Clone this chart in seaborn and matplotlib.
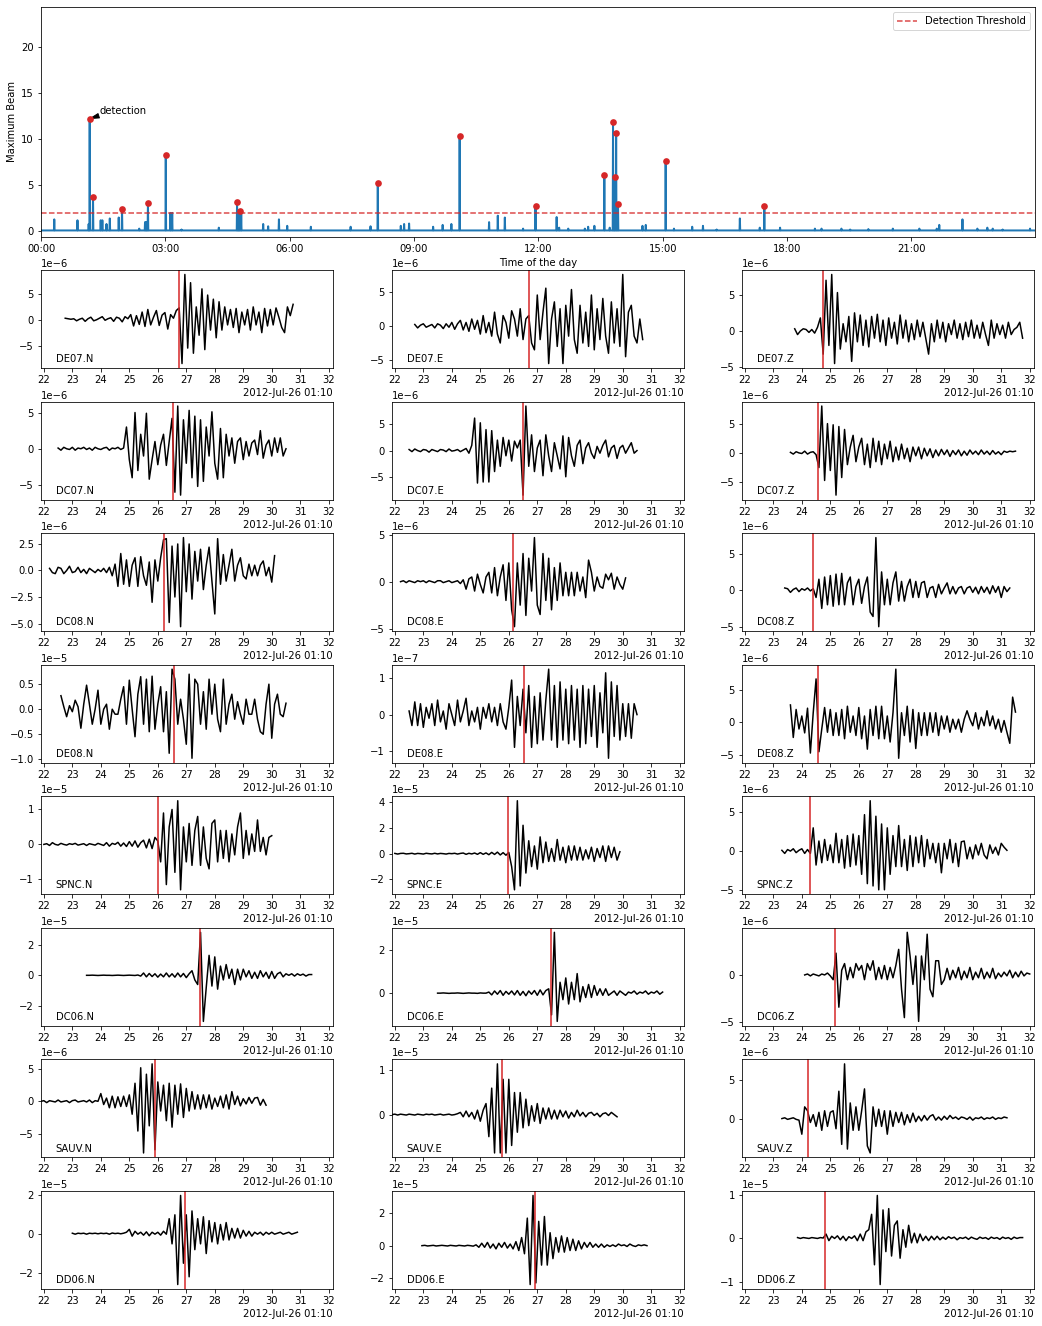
import numpy as np
import pandas as pd
import matplotlib
matplotlib.use("Agg")
import matplotlib.pyplot as plt
import matplotlib.dates as mdates
import seaborn as sns

# ------------------------------------------------------------------ top panel data
day = pd.Timestamp("2012-07-26")
det_hours = [1.175, 1.255, 1.955, 2.58, 3.01, 4.73, 4.795, 8.125, 10.10, 11.93,
             13.59, 13.80, 13.875, 13.84, 13.92, 15.07, 17.45]
det_values = [12.2, 3.72, 2.42, 3.1, 8.27, 3.18, 2.2, 5.24, 10.33, 2.75,
              6.1, 11.85, 10.65, 5.9, 2.97, 7.62, 2.75]
minor_hours = [0.32, 0.88, 1.15, 1.44, 1.48, 1.58, 1.66, 1.875, 2.37, 2.51, 2.54,
               3.12, 3.165, 3.39, 4.29, 4.76, 4.83, 5.36, 5.48, 5.74, 5.94, 6.51,
               7.47, 7.95, 8.68, 8.76, 8.88, 9.46, 9.69, 9.90, 10.81, 11.02, 11.19,
               11.63, 12.44, 12.50, 12.72, 13.12, 13.20, 13.35, 13.72, 14.51, 14.59,
               15.27, 15.71, 15.97, 16.30, 16.86, 17.34, 17.83, 18.67, 18.83, 19.31,
               19.52, 19.96, 20.55, 21.19, 21.61, 21.67, 22.23, 22.59, 22.83, 22.96,
               23.20, 23.86]
minor_values = [1.3, 1.2, 0.8, 1.2, 1.2, 0.8, 1.4, 1.5, 0.3, 1.0, 1.0,
                2.0, 2.0, 0.2, 0.4, 1.9, 1.85, 0.8, 0.55, 1.3, 0.6, 0.5,
                0.5, 0.55, 0.6, 0.8, 0.85, 0.5, 0.7, 0.8, 1.0, 1.7, 1.5,
                0.3, 1.55, 0.4, 0.3, 0.3, 0.5, 0.6, 0.4, 0.6, 0.7,
                0.3, 0.5, 0.6, 0.2, 1.4, 0.4, 0.4, 0.3, 0.3, 0.3,
                0.2, 0.25, 0.3, 0.3, 0.3, 0.7, 1.3, 0.3, 0.4, 0.3,
                0.2, 0.3]
beam_floor = 0.1
day_end_hours = 23.98
threshold = 2.0

# ------------------------------------------------------------------ waveform data
origin = pd.Timestamp("2012-07-26 01:10:00")
sample_dt = 0.1
panel_names = ["DE07.N", "DE07.E", "DE07.Z", "DC07.N", "DC07.E", "DC07.Z",
               "DC08.N", "DC08.E", "DC08.Z", "DE08.N", "DE08.E", "DE08.Z",
               "SPNC.N", "SPNC.E", "SPNC.Z", "DC06.N", "DC06.E", "DC06.Z",
               "SAUV.N", "SAUV.E", "SAUV.Z", "DD06.N", "DD06.E", "DD06.Z"]
trace_start = [22.75, 22.7, 23.75, 22.5, 22.5, 23.6, 22.2, 22.2, 23.4, 22.6, 22.5, 23.6,
               22.0, 22.0, 23.3, 23.5, 23.5, 24.1, 21.9, 21.9, 23.3, 23.0, 22.95, 23.85]
pick_time = [26.76, 26.72, 24.75, 26.53, 26.51, 24.58, 26.21, 26.16, 24.40, 26.56, 26.53, 24.58,
             26.00, 25.98, 24.28, 27.47, 27.47, 25.16, 25.90, 25.77, 24.21, 26.97, 26.93, 24.81]
exponent = [-6, -6, -6, -6, -6, -6, -6, -6, -6, -5, -7, -6,
            -5, -5, -6, -5, -5, -6, -6, -5, -6, -5, -5, -5]

DE07_N = [0.3, 0.2, 0.1, 0.2, -0.2, 0.1, 0.3, -0.3, 0.2, 0.5,
          -0.2, 0.0, 0.3, 0.6, -0.1, 0.2, 0.4, -0.3, 0.5, 0.3,
          -0.4, 0.6, 0.2, 1.0, -1.2, 0.8, -0.9, 1.5, -1.3, 2.0,
          -1.0, 0.5, 1.8, -1.1, 0.9, 1.4, -1.8, 1.0, 0.3, 1.8,
          2.3, -8.5, 8.8, -5.5, 7.2, -6.5, 2.5, -3.0, 6.0, -5.8,
          4.8, -2.0, 4.0, -3.5, 3.5, -2.0, 2.5, -1.0, 2.0, -1.5,
          2.2, -2.5, 1.5, -1.0, 2.0, -2.0, 2.5, -1.0, 1.5, -2.5,
          2.2, -1.2, 2.0, -1.0, 2.3, 0.5, -1.5, -2.5, 2.5, 0.8, 3.0]
DE07_E = [0.2, -0.3, 0.1, 0.3, -0.2, 0.0, 0.2, -0.3, 0.3, 0.1,
          -0.4, 0.3, -0.2, 0.5, -0.5, 0.3, 0.8, -0.6, 0.5, -0.8,
          1.0, -0.5, 0.8, -1.2, 1.5, -1.0, 0.5, -1.5, 2.0, -1.2,
          -2.5, 1.5, 0.5, -1.8, 2.2, 1.0, -1.5, 2.5, -2.0, 1.0,
          1.5, -2.5, -3.5, 4.5, -2.0, 2.0, 5.5, -5.5, 1.0, 3.5,
          -3.0, 2.5, -5.5, 3.0, -1.5, 5.3, -2.0, -4.0, 3.0, -2.5,
          2.0, -3.0, 4.5, -3.5, 2.5, -2.0, 4.0, -1.5, -4.0, 3.5,
          -2.5, 2.5, -3.0, 7.5, -4.5, 2.0, 3.0, -1.5, -2.5, 1.0, -2.0]
DE07_Z = [0.3, -0.5, 0.0, 0.3, 0.2, -0.2, 0.2, -0.3, 0.5, 1.8,
          -3.2, 7.0, -2.0, 7.8, -4.5, 5.3, -2.5, 1.0, -1.5, 2.0,
          -4.2, 2.5, -1.5, 2.2, -2.0, 1.5, -2.2, 2.0, -1.0, 2.3,
          -1.5, 1.5, -2.0, 1.8, -1.0, 1.2, -1.8, 2.2, -1.0, 1.5,
          -1.5, 1.0, -1.2, 1.5, -0.8, 1.2, -1.0, -3.2, 1.0, -1.5,
          1.5, -1.0, 1.2, -1.5, 1.0, -0.5, 1.5, -1.0, 1.0, -1.2,
          1.2, -0.8, 1.5, -1.0, 0.8, -1.0, 1.2, -0.5, -2.0, 1.5,
          -1.0, 1.0, -0.5, 0.8, -1.0, 1.2, -0.5, 0.2, 0.5, 1.2, -1.0]
DC07_N = [0.1, -0.2, 0.2, 0.0, -0.1, 0.2, -0.2, 0.1, 0.0, 0.2,
          -0.1, 0.1, -0.2, 0.2, 0.0, -0.1, 0.1, 0.2, -0.2, 0.1,
          0.0, 0.2, -0.1, 0.1, 3.0, -1.5, -4.0, 5.0, -3.0, 2.0,
          -1.0, 4.9, -4.2, -1.5, 1.0, -2.2, 0.5, 2.0, -2.3, 1.0,
          4.2, -6.0, 5.9, -6.4, 4.0, -2.0, 5.3, -4.0, 4.5, -5.2,
          4.0, -4.5, 3.0, -1.0, 5.1, -2.0, -4.2, 2.8, -4.0, 2.0,
          -1.0, 1.5, -2.0, 1.0, 1.5, -1.5, 1.0, -1.0, 0.8, 1.2,
          -0.8, 2.5, -1.3, 0.5, 1.2, -1.0, 1.5, -0.5, 1.5, -1.0, 0.0]
DC07_E = [0.2, -0.2, 0.3, 0.0, -0.2, 0.2, 0.1, -0.3, 0.2, 0.0,
          -0.2, 0.2, 0.1, -0.2, 0.3, -0.1, 0.0, 0.2, -0.2, 0.1,
          0.4, -0.5, 1.0, 6.2, -6.2, 5.3, -6.0, 4.0, -6.0, 3.8,
          -4.0, 2.0, -3.0, 2.5, -1.0, 2.0, -2.0, 1.8, 0.5, 2.0,
          -8.5, 8.5, -3.0, 3.0, -4.0, 0.5, 2.0, -4.8, 3.0, -1.0,
          -4.0, 1.5, -1.0, -3.5, 2.8, -5.0, 2.5, -1.0, -3.0, 1.0,
          2.0, -2.5, 0.5, 1.5, -0.5, -1.5, 0.8, -0.5, 1.0, 2.0,
          -1.2, 0.5, 1.0, -1.5, 0.5, 1.0, -0.5, 0.5, 1.5, -0.5, 0.0]
DC07_Z = [0.1, -0.2, 0.2, 0.0, -0.1, 0.3, -0.2, 0.1, 0.2, -0.3,
          -2.5, 8.0, -4.7, 5.0, -3.0, 4.8, -7.2, 4.5, -4.2, 4.0,
          -2.0, 1.0, 3.0, -1.5, 1.0, 2.5, -2.0, 1.5, -2.5, 2.5,
          -1.5, 2.0, -2.0, 1.5, -1.0, 2.0, -1.5, 1.0, -1.2, 1.5,
          -1.0, 0.8, -1.5, 1.0, -0.5, 1.0, -1.0, 0.8, -0.5, 0.7,
          -0.8, 0.5, -0.5, 0.6, -0.3, 0.5, -0.6, 0.4, -0.3, 0.5,
          -0.5, 0.3, -0.4, 0.5, -0.2, 0.3, -0.3, 0.5, -0.2, 0.3,
          -0.3, 0.4, -0.2, 0.2, -0.3, 0.3, 0.1, 0.3, 0.2, 0.3]
DC08_N = [0.2, -0.2, -0.3, 0.3, 0.2, -0.3, 0.0, 0.4, -0.2, -0.1,
          0.3, -0.2, 0.1, -0.3, 0.2, 0.0, -0.2, 0.1, -0.1, 0.2,
          -0.2, 0.3, -0.5, 0.6, -1.5, 1.6, -1.3, 1.0, -1.5, 0.5,
          1.2, -1.5, 1.3, -0.5, -1.4, 0.8, -3.0, 1.0, -1.0, 1.2,
          2.9, 3.0, -4.9, 2.3, -2.5, 2.5, -5.3, 3.1, -2.0, 2.5,
          -2.7, 1.8, -1.0, 2.0, -1.8, 0.5, 2.2, -1.0, -4.1, 3.0,
          -1.3, 1.5, -1.0, 0.5, 2.0, -1.0, 0.5, 1.2, -0.5, -0.8,
          0.6, -0.5, 0.5, -0.5, 0.5, 0.9, -0.5, 0.3, -1.1, 1.4]
DC08_E = [0.0, 0.1, -0.1, 0.1, 0.0, -0.1, 0.1, 0.0, 0.1, -0.1,
          0.1, 0.0, -0.1, 0.1, 0.1, -0.1, 0.0, 0.1, -0.1, 0.0,
          0.1, -0.2, 0.2, -0.8, 0.3, 0.5, -1.0, 0.8, -0.3, -1.2,
          0.5, 1.0, -1.2, 1.5, -1.5, 0.5, 1.8, -2.0, 2.0, -3.0,
          -4.8, 2.0, -2.5, 3.0, -3.6, 2.5, -1.0, 4.7, -2.5, -3.5,
          3.0, -2.0, 2.5, -3.0, 1.5, -2.0, 2.0, -1.5, 1.0, -1.5,
          1.0, -1.5, 1.0, -1.0, 0.5, -1.7, 2.3, 1.0, -1.0, 0.5,
          -0.5, -0.7, 0.8, 0.2, 0.9, -0.8, 0.5, -0.3, -0.8, 0.4]
DC08_Z = [0.3, 0.2, -0.3, 0.1, 0.3, -0.2, 0.2, 0.0, 0.3, -0.1,
          0.2, -1.0, 1.5, -2.5, 1.8, -2.0, 2.0, -2.2, 2.2, -2.0,
          2.3, -2.0, 1.0, 1.8, -2.0, 0.5, 1.5, -1.8, 0.5, 1.8,
          -3.0, -3.6, 7.2, -5.0, 2.5, -2.0, 1.5, -2.0, 1.0, 2.5,
          -1.5, 1.2, -1.5, 0.5, 1.5, -1.0, 1.2, -1.0, 1.0, 1.2,
          -1.0, 0.3, 0.5, -1.0, 0.8, -0.5, 0.3, 1.0, -0.5, 0.5,
          -0.5, 0.3, 0.5, -0.5, 0.3, 0.5, -0.3, 0.4, -0.5, 0.5,
          -0.3, 0.4, -0.5, 0.6, -0.3, 0.5, -1.0, 0.5, -0.2, 0.3]
DE08_N = [0.27, 0.05, -0.15, 0.07, -0.05, 0.18, 0.05, -0.38, 0.1, 0.48,
          0.1, -0.3, 0.0, 0.38, -0.3, 0.0, 0.1, -0.4, 0.0, -0.1,
          -0.1, 0.2, 0.45, -0.3, 0.58, 0.0, -0.55, 0.3, 0.65, -0.3,
          0.6, -0.45, 0.66, -0.4, 0.1, 0.45, -0.45, 0.35, -0.88, 0.8,
          0.6, -0.3, 0.2, -0.2, -0.7, 0.7, -0.98, 0.6, 0.5, -0.3,
          0.35, -0.4, 0.6, -0.1, 0.5, -0.2, -0.45, 0.6, -0.3, 0.1,
          0.3, -0.2, 0.15, -0.1, -0.3, 0.2, -0.1, -0.1, 0.2, -0.2,
          -0.45, -0.5, 0.1, 0.5, -0.58, 0.1, 0.3, -0.1, -0.15, 0.12]
DE08_E = [0.1, -0.3, 0.35, -0.3, 0.3, -0.35, 0.2, -0.1, 0.3, -0.3,
          0.4, -0.2, 0.1, -0.4, 0.3, 0.0, -0.3, 0.4, -0.2, 0.1,
          0.45, -0.3, 0.1, -0.2, 0.2, -0.4, 0.2, -0.1, 0.3, -0.2,
          0.2, -0.3, 0.3, -0.2, -0.4, 0.2, 0.95, -0.9, 0.5, -0.3,
          0.7, -0.5, 0.8, -0.9, 0.5, -0.8, 0.6, -0.7, 0.4, 1.25,
          -0.7, 0.8, -0.9, 0.9, -0.7, 0.7, -0.8, 0.8, -0.7, 0.7,
          -0.9, 0.8, -0.8, 0.7, -0.6, 0.8, -0.9, 0.6, -0.5, 1.15,
          -1.2, 0.9, -0.6, 0.8, -0.7, 0.3, -0.6, 0.3, -0.65, 0.3, 0.0]
DE08_Z = [2.7, -2.3, 2.0, -1.0, 1.0, -1.6, 2.2, -4.7, 1.5, 6.7,
          -4.5, -1.0, 2.3, -1.5, 2.0, -2.0, 1.5, -2.0, 2.0, -2.5,
          2.5, -1.5, 1.0, -2.0, 2.3, -2.5, 1.0, -4.1, 2.0, -2.0,
          2.5, -2.5, 2.5, -2.5, 1.0, -3.0, 1.5, 8.2, -5.5, 1.5,
          -2.0, 2.5, -3.0, 2.0, -4.0, 1.5, -2.0, 1.5, -2.0, 1.5,
          -1.5, 1.5, -2.0, 1.0, -1.0, 1.0, -1.5, 0.5, -1.0, 0.5,
          -1.5, 0.5, 1.8, 0.5, -0.5, 1.5, -1.0, 0.8, -0.5, 1.8,
          -0.5, 1.0, -1.0, 0.5, -1.5, 0.3, -1.5, -3.2, 3.9, 1.6]
SPNC_N = [0.0, 0.02, -0.03, 0.05, 0.0, -0.02, 0.03, 0.0, -0.02, 0.02,
          0.0, 0.03, -0.02, 0.0, 0.02, -0.03, 0.02, 0.0, -0.02, 0.03,
          0.0, -0.03, 0.05, -0.05, 0.03, 0.0, 0.06, -0.05, 0.04, -0.06,
          0.08, -0.05, 0.1, -0.08, 0.05, 0.12, -0.1, 0.15, -0.12, 0.2,
          0.1, -0.5, 0.9, -1.15, 0.5, 1.0, -0.8, 1.25, -1.3, 0.5,
          -0.5, 0.6, -0.6, 0.4, 0.8, -0.6, 0.5, -0.4, -0.7, 0.6,
          0.7, -0.5, 0.4, -0.4, 0.4, -0.5, 0.3, -0.3, 0.5, 0.9,
          -0.4, 0.4, -0.3, 0.3, -0.2, 0.7, -0.2, 0.2, -0.3, 0.2, 0.25]
SPNC_E = [0.02, -0.03, 0.02, 0.03, -0.02, 0.0, 0.03, -0.03, 0.02, 0.0,
          -0.03, 0.03, 0.0, -0.02, 0.03, -0.02, 0.02, 0.0, -0.03, 0.02,
          0.0, 0.03, -0.03, 0.02, 0.05, -0.05, 0.03, -0.02, 0.05, -0.05,
          0.08, -0.05, 0.06, -0.08, 0.1, -0.06, 0.12, -0.1, 0.08, -0.12,
          0.1, -1.0, -2.8, 4.1, -2.5, 2.2, -1.5, 1.0, -1.0, 0.6,
          -1.2, 1.3, -0.7, 0.9, -0.6, 0.4, -0.6, 1.1, -0.5, 0.5,
          -0.7, 0.6, -0.5, 0.6, -0.5, 0.5, -0.5, 0.3, -0.4, 0.5,
          -0.6, 0.4, -0.3, 0.6, -0.6, 0.6, -0.3, 0.5, -0.5, 0.15]
SPNC_Z = [0.1, -0.3, 0.2, 0.0, 0.3, -0.2, 0.1, 0.3, -0.3, 0.2,
          -0.3, 3.0, -1.8, 1.3, -1.5, 1.5, -1.2, 0.8, -1.5, 2.3,
          -1.5, 1.5, -2.2, 2.0, -2.0, 2.2, -1.8, 2.0, -3.0, 4.7,
          -4.2, 6.5, -4.5, 4.5, -5.0, 3.5, -5.0, 3.0, -3.0, 2.0,
          -2.0, 3.3, -2.0, 1.5, -2.5, 2.0, -2.0, 1.8, -1.5, 2.0,
          -2.0, 1.5, -1.0, 1.0, -1.5, 1.0, -2.8, 1.0, -1.0, 1.5,
          -1.5, 1.0, -2.0, 1.2, 1.3, -1.0, 0.5, -1.0, 0.8, -0.5,
          1.0, -0.5, -1.0, 0.8, -0.3, 0.5, -0.5, 1.0, 0.5, 0.1]
DC06_N = [0.0, 0.0, 0.01, 0.0, -0.01, 0.0, 0.01, 0.0, 0.0, -0.01,
          0.0, 0.01, 0.0, -0.01, 0.0, 0.01, 0.0, -0.01, 0.02, -0.05,
          0.15, -0.1, 0.12, -0.08, 0.1, -0.12, 0.08, -0.1, 0.15, -0.1,
          0.1, -0.12, 0.15, -0.1, 0.12, -0.15, 0.1, 0.3, -0.3, -0.6,
          2.8, -3.0, -0.8, 1.3, -0.7, 1.2, -0.9, 0.6, -0.3, 0.7,
          -0.2, 0.4, -0.6, 0.4, -0.3, 0.4, -0.1, 0.3, -0.2, 0.2,
          -0.2, 0.3, -0.1, 0.2, -0.2, 0.25, -0.2, 0.1, 0.2, -0.1,
          0.1, 0.0, 0.1, -0.05, 0.1, 0.0, 0.08, -0.05, 0.05, 0.05]
DC06_E = [0.0, 0.0, 0.01, 0.0, -0.01, 0.0, 0.0, 0.01, 0.0, -0.01,
          0.0, 0.01, 0.0, 0.0, -0.01, 0.01, 0.0, 0.0, 0.05, -0.08,
          0.1, -0.05, 0.12, -0.1, 0.08, -0.05, 0.1, -0.08, 0.12, -0.1,
          0.08, -0.12, 0.1, -0.05, 0.12, -0.1, 0.15, -0.08, 0.12, 0.2,
          -1.0, 2.8, -1.3, 0.5, -0.3, 0.7, -0.5, 0.5, -0.3, 0.9,
          -0.4, 0.3, -0.2, 0.4, -0.2, 0.35, -0.1, 0.2, -0.1, 0.2,
          -0.1, 0.0, 0.1, -0.1, 0.1, 0.0, -0.1, 0.05, 0.0, 0.1,
          -0.05, 0.05, 0.0, 0.1, -0.05, 0.05, 0.0, 0.1, -0.05, 0.05]
DC06_Z = [0.0, 0.1, -0.1, 0.1, 0.0, -0.1, 0.1, 0.0, 0.2, -0.1,
          -0.5, 2.3, -3.4, 0.5, 1.2, -0.5, 0.8, -0.3, 1.2, 0.5,
          1.0, -0.5, 1.2, 0.5, 1.5, -0.5, 0.8, -0.4, 1.0, -0.5,
          0.8, -0.3, 1.0, 2.7, -1.5, -4.5, 4.5, 2.0, -1.0, 2.0,
          -4.9, 2.0, -0.5, 4.3, -1.5, -2.3, 1.5, 1.5, -1.0, -0.5,
          0.7, -0.5, 0.5, -0.3, 0.8, -0.5, 0.4, -0.3, 0.8, -0.5,
          0.3, -0.3, 0.7, -0.4, 0.3, -0.3, 0.7, -0.4, 0.2, -0.2,
          0.3, -0.1, 0.5, -0.3, 0.3, -0.2, 0.4, -0.1, 0.2, 0.1]
SAUV_N = [0.0, 0.1, -0.2, 0.1, 0.0, -0.1, 0.2, -0.1, 0.0, 0.1,
          -0.2, 0.1, 0.2, -0.1, 0.0, 0.1, -0.1, 0.2, -0.2, 0.1,
          0.0, 1.2, -0.5, 0.5, -1.0, 0.8, -1.0, 0.7, -0.8, 0.8,
          -0.8, 1.0, -2.0, 2.8, -4.6, 5.2, -8.0, 4.2, -3.8, 5.8,
          -7.5, 3.0, -1.5, 2.5, -3.0, 2.8, -4.0, 2.5, -2.0, 2.7,
          -2.5, 2.0, -1.5, 1.5, -1.2, 1.0, -1.2, 1.0, -1.0, 1.0,
          -1.2, 0.5, -0.8, 0.8, -1.0, 1.0, -1.2, 1.5, -0.5, 0.8,
          -0.7, 0.4, -0.4, 0.6, -0.3, 0.5, 0.6, -0.6, 0.3, -0.6]
SAUV_E = [0.0, 0.01, -0.01, 0.01, 0.0, -0.01, 0.01, 0.0, -0.01, 0.01,
          0.0, -0.01, 0.01, 0.0, 0.01, -0.01, 0.0, 0.01, -0.01, 0.0,
          0.01, -0.01, 0.0, 0.02, 0.05, -0.05, 0.08, -0.05, 0.05, -0.1,
          0.1, -0.15, 0.1, 0.25, -0.5, 0.6, -0.87, 1.15, -0.87, 0.8,
          -0.87, 0.8, -0.7, 0.5, -0.4, 0.5, -0.3, 0.35, -0.25, 0.2,
          -0.15, 0.25, -0.2, 0.15, -0.1, 0.15, -0.1, 0.1, -0.1, 0.1,
          -0.05, 0.08, -0.08, 0.05, -0.05, 0.1, -0.03, 0.05, -0.05, 0.03,
          0.05, -0.02, 0.03, -0.05, 0.02, 0.04, -0.02, 0.05, 0.0, -0.05]
SAUV_Z = [0.0, 0.1, -0.1, 0.0, 0.1, -0.1, -0.2, -2.0, 1.5, 1.0,
          -0.5, 0.5, -1.0, 0.8, -1.5, 1.0, -1.0, 0.8, 1.0, -1.3,
          3.5, -3.3, 7.0, -3.9, 2.0, -1.5, 1.5, -1.5, 1.0, 3.8,
          -3.5, -4.4, 1.5, -1.0, 1.2, -1.0, 1.0, -2.0, 1.0, -1.0,
          0.8, -0.5, 0.8, -0.8, 0.5, -0.5, 0.7, -0.4, 0.3, -0.3,
          0.4, -0.2, 0.3, 0.5, -0.2, 0.2, -0.2, 0.3, -0.1, 0.4,
          0.0, 0.2, -0.1, 0.2, 0.1, -0.1, 0.2, -0.2, 0.1, 0.0,
          0.2, -0.1, 0.1, 0.0, 0.2, -0.1, 0.1, 0.0, 0.2, 0.1]
DD06_N = [0.05, 0.0, 0.05, 0.03, 0.05, 0.0, 0.05, 0.03, 0.05, 0.02,
          0.05, 0.03, 0.05, 0.0, 0.06, 0.03, 0.05, 0.02, 0.05, 0.1,
          0.25, -0.1, 0.15, 0.0, 0.1, -0.05, 0.12, -0.08, 0.1, 0.0,
          0.1, -0.05, 0.15, 0.0, 0.8, -0.5, 1.0, -2.6, 2.0, -1.5,
          1.0, -2.2, 1.2, -0.8, 0.8, -0.5, 0.9, -1.0, 0.7, -0.4,
          0.6, -0.5, 0.5, -0.3, 0.6, -0.3, 0.3, -0.2, 0.3, -0.2,
          0.2, -0.1, 0.15, -0.1, 0.1, 0.0, 0.1, -0.05, 0.1, 0.0,
          0.1, 0.0, 0.05, 0.1, 0.0, 0.05, 0.1, 0.0, 0.05, 0.1]
DD06_E = [0.0, 0.02, -0.02, 0.0, 0.02, -0.02, 0.0, 0.02, 0.0, -0.02,
          0.02, 0.0, -0.02, 0.02, 0.0, -0.02, 0.02, 0.0, -0.03, 0.05,
          -0.1, 0.15, -0.1, 0.2, -0.15, 0.1, -0.2, 0.15, -0.1, 0.2,
          -0.15, 0.1, -0.2, 0.25, -0.3, 0.5, -0.5, 1.7, -2.4, 3.1,
          -2.3, 1.5, -1.2, 1.8, -1.2, 0.8, -0.8, 0.5, -0.4, 0.6,
          -0.4, 0.5, -0.3, 0.4, -0.3, 0.3, -0.2, 0.2, -0.1, 0.2,
          -0.1, 0.1, -0.1, 0.1, -0.1, 0.05, -0.05, 0.05, -0.05, 0.1,
          0.0, 0.05, -0.05, 0.1, 0.0, -0.05, 0.05, 0.0, 0.05, 0.0]
DD06_Z = [0.02, 0.0, 0.02, 0.01, 0.0, 0.02, 0.01, 0.0, 0.02, 0.01,
          0.1, -0.05, 0.05, 0.0, 0.06, -0.03, 0.05, -0.05, 0.04, 0.0,
          0.06, -0.05, 0.1, -0.05, 0.15, 0.2, 0.55, -0.6, 0.98, -1.05,
          0.65, -0.3, 0.68, -0.4, 0.3, 0.4, -0.45, 0.2, -0.2, 0.3,
          -0.1, 0.12, -0.1, 0.1, -0.05, 0.05, -0.05, 0.05, -0.03, 0.05,
          -0.03, 0.03, -0.02, 0.04, 0.0, 0.03, -0.03, 0.02, 0.0, 0.03,
          -0.02, 0.03, 0.0, -0.02, 0.03, 0.0, 0.02, -0.02, 0.03, 0.0,
          0.02, -0.02, 0.03, 0.0, 0.02, -0.02, 0.03, 0.0, 0.02, 0.02]

trace_values = [DE07_N, DE07_E, DE07_Z, DC07_N, DC07_E, DC07_Z,
                DC08_N, DC08_E, DC08_Z, DE08_N, DE08_E, DE08_Z,
                SPNC_N, SPNC_E, SPNC_Z, DC06_N, DC06_E, DC06_Z,
                SAUV_N, SAUV_E, SAUV_Z, DD06_N, DD06_E, DD06_Z]

# ------------------------------------------------------------------ figure
plt.rcParams["font.family"] = ["DejaVu Sans"]
plt.rcParams["font.size"] = 10
DPI = 72
W, H = 1042, 1326
fig = plt.figure(figsize=(W / DPI, H / DPI), dpi=DPI)


def px_axes(left, top, right, bottom):
    return fig.add_axes([left / W, 1 - bottom / H, (right - left) / W, (bottom - top) / H])


# ---- top panel: beam maximum over the day
ax0 = px_axes(41, 7, 1035, 237)
spikes = sorted(zip(det_hours + minor_hours, det_values + minor_values))
half_w = 0.008
bh, bv = [0.0], [beam_floor]
for h, v in spikes:
    bh += [h - half_w, h, h + half_w]
    bv += [beam_floor, v, beam_floor]
bh.append(day_end_hours)
bv.append(beam_floor)
beam_df = pd.DataFrame({"time": day + pd.to_timedelta(bh, unit="h"), "beam": bv})
sns.lineplot(data=beam_df, x="time", y="beam", ax=ax0, color="#1f77b4", lw=2.0,
             estimator=None, sort=False, legend=False)
ax0.axhline(threshold, ls="--", color="tab:red", alpha=0.85, lw=1.5, label="Detection Threshold")
det_df = pd.DataFrame({"time": day + pd.to_timedelta(det_hours, unit="h"), "beam": det_values})
sns.scatterplot(data=det_df, x="time", y="beam", ax=ax0, color="tab:red", s=45,
                linewidth=0, zorder=4, legend=False)
t_first = mdates.date2num(det_df["time"].iloc[0])
ax0.annotate("detection", xy=(t_first, det_values[0]),
             xytext=(mdates.date2num(day + pd.Timedelta(hours=1.40)), 12.75),
             arrowprops=dict(facecolor="black", edgecolor="black", shrink=0.05,
                             width=1.0, headwidth=4.5, headlength=9))
ax0.set_xlim(day, day + pd.Timedelta(hours=day_end_hours))
ax0.set_ylim(-0.61, 24.3)
ax0.xaxis.set_major_locator(mdates.HourLocator(byhour=range(0, 24, 3)))
ax0.xaxis.set_major_formatter(mdates.DateFormatter("%H:%M"))
ax0.set_xlabel("Time of the day")
ax0.set_ylabel("Maximum Beam")
ax0.legend(loc="upper right")

# ---- waveform grid
col_left = [41, 392, 742]
col_width = 292
row_top0, row_pitch, row_height = 270, 131.57, 98
xmin = origin + pd.Timedelta(seconds=21.9)
xmax = origin + pd.Timedelta(seconds=32.15)

for i, name in enumerate(panel_names):
    r, c = divmod(i, 3)
    top = row_top0 + r * row_pitch
    ax = px_axes(col_left[c], top, col_left[c] + col_width, top + row_height)
    vals = np.asarray(trace_values[i]) * 10.0 ** exponent[i]
    secs = trace_start[i] + sample_dt * np.arange(len(vals))
    df = pd.DataFrame({"time": origin + pd.to_timedelta(secs, unit="s"), "amp": vals})
    sns.lineplot(data=df, x="time", y="amp", ax=ax, color="black", lw=1.5,
                 estimator=None, sort=False, legend=False)
    ax.axvline(origin + pd.Timedelta(seconds=pick_time[i]), color="tab:red", alpha=0.85, lw=1.8)
    ax.set_xlim(xmin, xmax)
    loc = mdates.SecondLocator()
    ax.xaxis.set_major_locator(loc)
    ax.xaxis.set_major_formatter(mdates.ConciseDateFormatter(loc))
    ax.set_xlabel("")
    ax.set_ylabel("")
    ax.text(0.05, 0.04, name, transform=ax.transAxes, ha="left", va="bottom")

fig.savefig("out.png", dpi=DPI)
